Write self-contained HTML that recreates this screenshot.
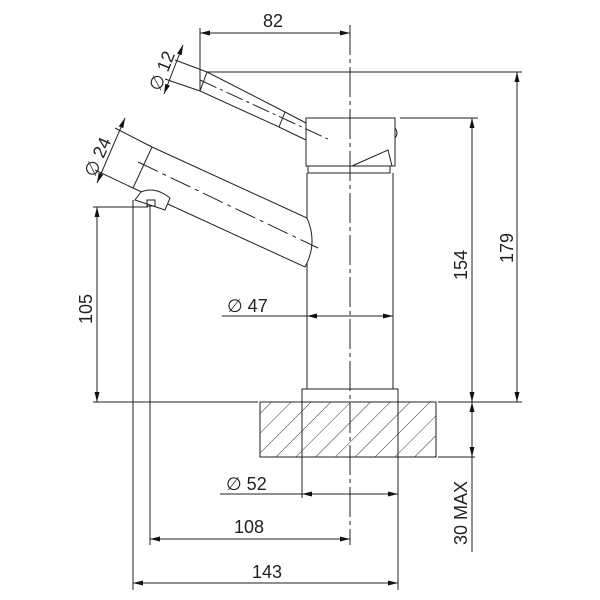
<!DOCTYPE html>
<html><head><style>body{margin:0;background:#fff}svg{display:block}text{font-family:"Liberation Sans",sans-serif;font-size:18px;fill:#222}</style></head><body>
<svg width="600" height="600" viewBox="0 0 600 600" xmlns="http://www.w3.org/2000/svg">
<defs>
<marker id="a" viewBox="0 0 12 6" refX="12" refY="3" markerWidth="12" markerHeight="5" orient="auto-start-reverse" markerUnits="userSpaceOnUse"><path d="M0,0L12,3L0,6z" fill="#111"/></marker>
<pattern id="h" width="14" height="14" patternUnits="userSpaceOnUse" patternTransform="rotate(45)"><line x1="0" y1="0" x2="0" y2="14" stroke="#333" stroke-width="1"/></pattern>
</defs>
<g stroke="#222" stroke-width="1" fill="none">
<rect x="260" y="402" width="176" height="55" fill="url(#h)"/>
<line x1="93" y1="402" x2="258" y2="402"/>
<line x1="438" y1="402" x2="522" y2="402"/>
<line x1="438" y1="457" x2="475" y2="457"/>
<rect x="302" y="389" width="96" height="13" fill="#fff"/>
<line x1="307" y1="173" x2="307" y2="389"/>
<line x1="393" y1="173" x2="393" y2="389"/>
<rect x="308" y="166" width="82" height="7"/>
<rect x="306" y="118" width="89" height="48"/>
<path d="M395,128 q4,5 0,10"/>
<path d="M352,166 L388,150 L392,166"/>
<path d="M207,72 L285,112 L279,127 L200,91 Z"/>
<path d="M285,112 L306,123 M279,127 L306,140"/>
<line x1="200" y1="80" x2="330" y2="140" stroke-dasharray="18,4,3,4"/>
<path d="M152,147 L307,218 Q318,243 305,267 L133,188 Z" fill="#fff"/>
<line x1="138" y1="162" x2="318" y2="248" stroke-dasharray="22,5,4,5"/>
<path d="M135,200 L141,192 Q155,186 170,198 L165,210 Z" fill="#fff"/>
<rect x="147" y="200" width="8" height="6"/>
<line x1="350" y1="25" x2="350" y2="545" stroke-dasharray="30,4,4,4"/>
<line x1="200" y1="28" x2="200" y2="90"/>
<line x1="200" y1="33" x2="350" y2="33" marker-start="url(#a)" marker-end="url(#a)"/>
<line x1="207" y1="72" x2="522" y2="72"/>
<line x1="517" y1="72" x2="517" y2="402" marker-start="url(#a)" marker-end="url(#a)"/>
<line x1="400" y1="118" x2="478" y2="118"/>
<line x1="472" y1="118" x2="472" y2="402" marker-start="url(#a)" marker-end="url(#a)"/>
<line x1="472" y1="402" x2="472" y2="457" marker-start="url(#a)" marker-end="url(#a)"/>
<line x1="472" y1="457" x2="472" y2="552"/>
<line x1="93" y1="207" x2="148" y2="207"/>
<line x1="97" y1="207" x2="97" y2="402" marker-start="url(#a)" marker-end="url(#a)"/>
<line x1="133" y1="200" x2="133" y2="590"/>
<line x1="150" y1="205" x2="150" y2="545"/>
<line x1="222" y1="316" x2="307" y2="316"/>
<line x1="307" y1="316" x2="393" y2="316" marker-start="url(#a)" marker-end="url(#a)"/>
<line x1="302" y1="402" x2="302" y2="498"/>
<line x1="398" y1="402" x2="398" y2="590"/>
<line x1="220" y1="494" x2="302" y2="494"/>
<line x1="302" y1="494" x2="398" y2="494" marker-start="url(#a)" marker-end="url(#a)"/>
<line x1="150" y1="539" x2="350" y2="539" marker-start="url(#a)" marker-end="url(#a)"/>
<line x1="133" y1="583" x2="398" y2="583" marker-start="url(#a)" marker-end="url(#a)"/>
<line x1="175" y1="60" x2="207" y2="72"/>
<line x1="165" y1="79" x2="200" y2="91"/>
<line x1="183" y1="45" x2="164" y2="94" marker-start="url(#a)" marker-end="url(#a)"/>
<line x1="115" y1="128" x2="152" y2="147"/>
<line x1="95" y1="170" x2="133" y2="188"/>
<line x1="125" y1="118" x2="97" y2="183" marker-start="url(#a)" marker-end="url(#a)"/>
</g>
<g>
<text x="263" y="27">82</text>
<text x="227" y="312">∅ 47</text>
<text x="226" y="490">∅ 52</text>
<text x="234" y="533">108</text>
<text x="252" y="578">143</text>
<text transform="translate(513,263) rotate(-90)">179</text>
<text transform="translate(467,280) rotate(-90)">154</text>
<text transform="translate(92,324) rotate(-90)">105</text>
<text transform="translate(467,545) rotate(-90)">30 MAX</text>
<text transform="translate(160,92) rotate(-68)">∅ 12</text>
<text transform="translate(95,178) rotate(-66)">∅ 24</text>
</g>
</svg>
</body></html>
